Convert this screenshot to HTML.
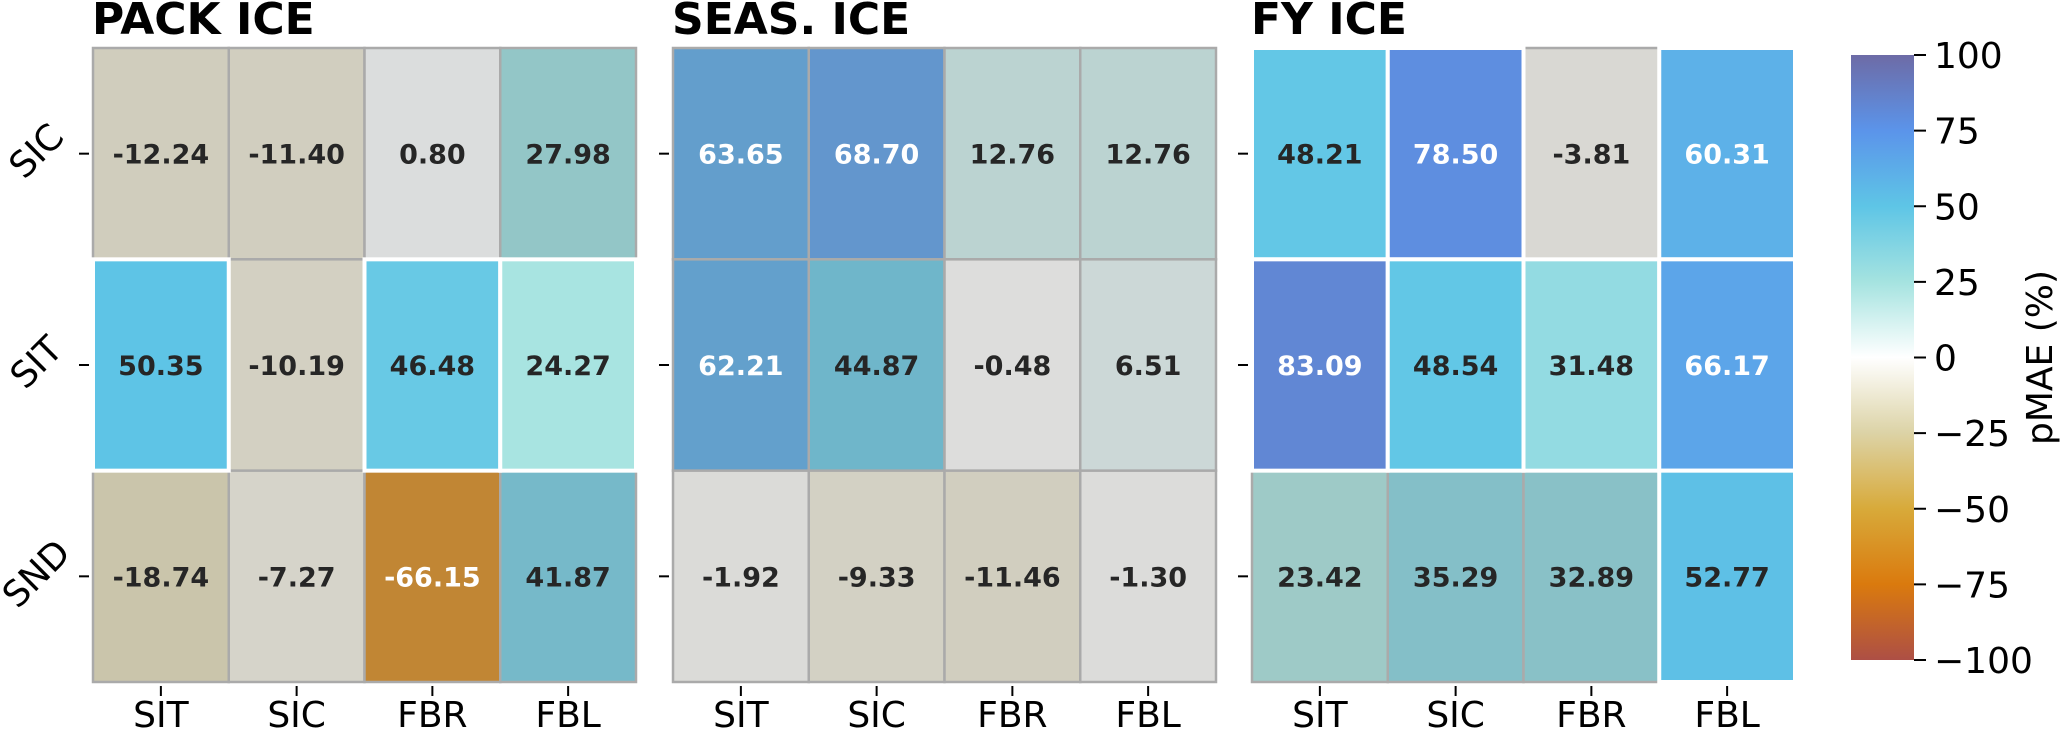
<!DOCTYPE html>
<html><head><meta charset="utf-8"><style>
html,body{margin:0;padding:0;background:#fff;width:2067px;height:731px;overflow:hidden}
svg text{font-family:"DejaVu Sans","Liberation Sans",sans-serif}
</style></head><body>
<svg id="chart" width="2067" height="731" viewBox="0 0 2067 731" xmlns="http://www.w3.org/2000/svg"></svg>
<script>
const panelTitles = ["PACK ICE", "SEAS. ICE", "FY ICE"];
const rowLabels = ["SIC", "SIT", "SND"];
const colLabels = ["SIT", "SIC", "FBR", "FBL"];
const packValues = [[-12.24, -11.40, 0.80, 27.98], [50.35, -10.19, 46.48, 24.27], [-18.74, -7.27, -66.15, 41.87]];
const seasValues = [[63.65, 68.70, 12.76, 12.76], [62.21, 44.87, -0.48, 6.51], [-1.92, -9.33, -11.46, -1.30]];
const fyValues = [[48.21, 78.50, -3.81, 60.31], [83.09, 48.54, 31.48, 66.17], [23.42, 35.29, 32.89, 52.77]];
const packSig = [[0,0,0,0],[1,0,1,1],[0,0,0,0]];
const seasSig = [[0,0,0,0],[0,0,0,0],[0,0,0,0]];
const fySig = [[1,1,0,1],[1,1,1,1],[0,0,0,1]];
const cbarTicks = [100, 75, 50, 25, 0, -25, -50, -75, -100];
const cbarTickLabels = ["100", "75", "50", "25", "0", "\u221225", "\u221250", "\u221275", "\u2212100"];

const NS = "http://www.w3.org/2000/svg";
const svg = document.getElementById("chart");
function mk(tag, attrs, parent){const e=document.createElementNS(NS,tag);for(const k in attrs)e.setAttribute(k,attrs[k]);(parent||svg).appendChild(e);return e;}

const stops = [[-100,[173,79,69]],[-75,[218,122,14]],[-50,[216,170,58]],[-25,[220,211,166]],[0,[255,255,255]],[25,[165,227,224]],[50,[94,197,230]],[75,[91,148,234]],[100,[109,107,166]]];
function cmap(v){v=Math.max(-100,Math.min(100,v));for(let i=0;i<stops.length-1;i++){const a=stops[i],b=stops[i+1];if(v>=a[0]&&v<=b[0]){const t=(v-a[0])/(b[0]-a[0]);return a[1].map((c,j)=>c+(b[1][j]-c)*t);}}return stops[stops.length-1][1];}
function rgb(c){return "rgb("+c.map(x=>Math.round(x)).join(",")+")";}

const panelX = [93, 673, 1252];
const panelW = 543, gridTop = 48, gridBot = 682;
const cellW = panelW / colLabels.length, cellH = (gridBot - gridTop) / rowLabels.length;
function xPos(p, j){return panelX[p] + j * cellW;}
function yPos(i){return gridTop + i * cellH;}

const allValues = [packValues, seasValues, fyValues];
const allSig = [packSig, seasSig, fySig];

allValues.forEach((vals, p) => {
  const g = mk("g", {});
  
  
  const t = mk("text", {x: panelX[p] - 1, y: 34, "font-size": 44, "font-weight": "bold", fill: "#000"}, g);
  t.textContent = panelTitles[p];
  
  
  const order = [];
  vals.forEach((row, i) => row.forEach((v, j) => order.push([i, j])));
  order.sort((a, b) => allSig[p][a[0]][a[1]] - allSig[p][b[0]][b[1]]);
  order.forEach(([i, j]) => {
    const v = vals[i][j];
    const sig = allSig[p][i][j];
    let c = cmap(v);
    if (!sig) c = c.map(x => x * 0.75 + 30);
    const r = mk("rect", {x: xPos(p, j), y: yPos(i), width: cellW, height: cellH, fill: rgb(c), stroke: sig ? "#ffffff" : "#aaaaaa", "stroke-width": sig ? 4 : 2.5}, g);
    
    
  });
  vals.forEach((row, i) => row.forEach((v, j) => {
    const tx = mk("text", {x: xPos(p, j) + cellW / 2, y: yPos(i) + cellH / 2 + 10, "font-size": 27, "font-weight": "bold", "text-anchor": "middle", fill: Math.abs(v) > 55 ? "#ffffff" : "#262626"}, g);
    tx.textContent = v.toFixed(2);
    
    
  }));
  rowLabels.forEach((lab, i) => {
    const yc = yPos(i) + cellH / 2;
    const tk = mk("line", {x1: panelX[p] - 14, x2: panelX[p] - 4, y1: yc, y2: yc, stroke: "#000", "stroke-width": 2}, g);
    
    
    if (p === 0) {
      const yl = mk("text", {x: 0, y: 0, "font-size": 36, "text-anchor": "middle", fill: "#000", transform: "translate(" + (panelX[p] - 48) + "," + (yc + 6) + ") rotate(-45)"}, g);
      yl.textContent = lab;
      
      
    }
  });
  colLabels.forEach((lab, j) => {
    const xc = xPos(p, j) + cellW / 2;
    const tk = mk("line", {x1: xc, x2: xc, y1: gridBot + 4, y2: gridBot + 14, stroke: "#000", "stroke-width": 2}, g);
    
    
    const xl = mk("text", {x: xc, y: 727, "font-size": 36, "text-anchor": "middle", fill: "#000"}, g);
    xl.textContent = lab;
    
    
  });
});

const cbX = 1851, cbW = 63, cbTop = 55, cbBot = 660;
function cbY(v){return cbTop + (100 - v) / 200 * (cbBot - cbTop);}
const defs = mk("defs", {});
const grad = mk("linearGradient", {id: "cbgrad", x1: 0, y1: 0, x2: 0, y2: 1}, defs);
stops.slice().reverse().forEach(s => { mk("stop", {offset: ((100 - s[0]) / 200 * 100) + "%", "stop-color": rgb(s[1])}, grad); });
const cbg = mk("g", {});


const cbr = mk("rect", {x: cbX, y: cbTop, width: cbW, height: cbBot - cbTop, fill: "url(#cbgrad)"}, cbg);


cbarTicks.forEach((v, k) => {
  const y = cbY(v);
  const tk = mk("line", {x1: cbX + cbW, x2: cbX + cbW + 12, y1: y, y2: y, stroke: "#000", "stroke-width": 2}, cbg);
  
  
  const tl = mk("text", {x: cbX + cbW + 20, y: y + 13, "font-size": 36, fill: "#000"}, cbg);
  tl.textContent = cbarTickLabels[k];
  
  
});
const cbl = mk("text", {x: 0, y: 0, "font-size": 36, "text-anchor": "middle", fill: "#000", transform: "translate(2052," + ((cbTop + cbBot) / 2) + ") rotate(-90)"}, cbg);
cbl.textContent = "pMAE (%)";


</script>
</body></html>
